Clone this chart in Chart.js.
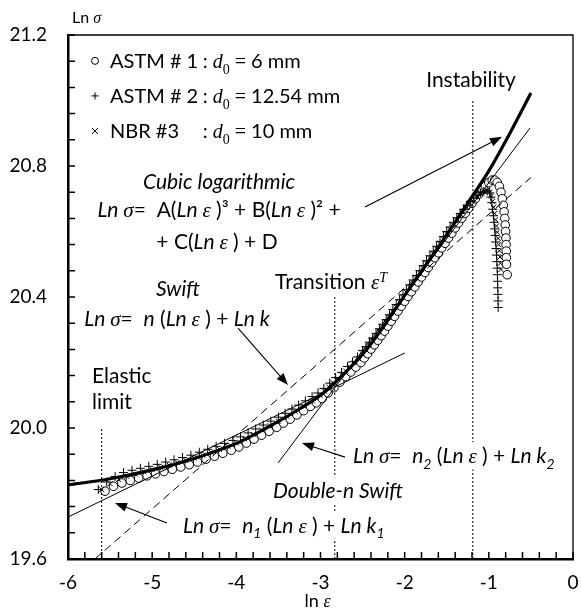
<!DOCTYPE html>
<html>
<head>
<meta charset="utf-8">
<script src="https://cdn.jsdelivr.net/npm/chart.js@4.4.1/dist/chart.umd.min.js"></script>
<style>
  html, body { margin: 0; padding: 0; background: #fff; }
  #wrap { width: 581px; height: 613px; position: relative; }
</style>
</head>
<body>
<div id="wrap"><canvas id="chart"></canvas></div>
<script>
// ---- data (ln eps, ln sigma) ----
const cubicX = [-6.0, -5.5, -5.0, -4.5, -4.0, -3.5, -3.25, -3.0, -2.75, -2.5, -2.25, -2.0, -1.75, -1.5, -1.25, -1.0, -0.75, -0.5];
const cubicY = [19.826, 19.845, 19.872, 19.907, 19.953, 20.020, 20.058, 20.100, 20.158, 20.225, 20.310, 20.405, 20.497, 20.590, 20.687, 20.785, 20.900, 21.023];

const swiftX = [-5.68, -0.5];
const swiftY = [19.6, 20.765];
const n1X = [-6.0, -2.0];
const n1Y = [19.728, 20.229];
const n2X = [-3.505, -0.511];
const n2Y = [19.893, 20.916];

const elasticX = [-5.6, -5.6];
const elasticY = [19.6, 20.0];
const transX = [-2.83, -2.83];
const transY = [19.6, 20.40];
const instabX = [-1.19, -1.19];
const instabY = [19.6, 21.0];

const astm1X = [-5.56, -5.46, -5.36, -5.26, -5.16, -5.06, -4.96, -4.86, -4.76, -4.66, -4.56, -4.46, -4.36, -4.26, -4.16, -4.06,
  -3.97, -3.88, -3.79, -3.70, -3.61, -3.52, -3.44, -3.36, -3.28, -3.20, -3.12, -3.05,
  -2.98, -2.91, -2.84, -2.77, -2.70, -2.64, -2.58, -2.52,
  -2.48, -2.44, -2.40, -2.36, -2.32, -2.28, -2.24, -2.20, -2.16, -2.12, -2.08, -2.04, -2.00, -1.96, -1.92, -1.88, -1.84, -1.80, -1.76,
  -1.72, -1.68, -1.64, -1.60, -1.56, -1.52, -1.48, -1.44, -1.40, -1.36, -1.32, -1.28, -1.24, -1.20, -1.16, -1.12, -1.08, -1.04, -1.00,
  -0.96, -0.93, -0.90, -0.875, -0.855, -0.840, -0.828, -0.818, -0.810, -0.805, -0.800, -0.797, -0.795, -0.793, -0.792, -0.790, -0.782];
const astm1Y = [19.807, 19.822, 19.832, 19.840, 19.847, 19.854, 19.860, 19.867, 19.874, 19.881, 19.888, 19.896, 19.905, 19.914, 19.923, 19.932,
  19.942, 19.954, 19.966, 19.978, 19.990, 20.002, 20.015, 20.027, 20.040, 20.053, 20.066, 20.077,
  20.090, 20.107, 20.123, 20.140, 20.157, 20.171, 20.186, 20.200,
  20.214, 20.227, 20.241, 20.254, 20.268, 20.282, 20.296, 20.311, 20.326, 20.341, 20.357, 20.372, 20.387, 20.402, 20.416, 20.431, 20.446, 20.461, 20.475,
  20.490, 20.505, 20.520, 20.535, 20.550, 20.564, 20.580, 20.595, 20.611, 20.626, 20.641, 20.656, 20.671, 20.686, 20.700, 20.714, 20.727, 20.739, 20.749,
  20.757, 20.757, 20.750, 20.738, 20.720, 20.700, 20.680, 20.660, 20.640, 20.620, 20.600, 20.580, 20.560, 20.540, 20.520, 20.500, 20.468];

const astm2X = [-5.64, -5.54, -5.44, -5.34, -5.24, -5.14, -5.04, -4.94, -4.84, -4.74, -4.64, -4.54, -4.44, -4.34, -4.24, -4.14, -4.04,
  -3.95, -3.86, -3.77, -3.68, -3.59, -3.50, -3.42, -3.34, -3.26, -3.18, -3.10, -3.03, -2.96, -2.89, -2.82, -2.75, -2.68, -2.62, -2.56, -2.50,
  -2.46, -2.42, -2.38, -2.34, -2.30, -2.26, -2.22, -2.18, -2.14, -2.10, -2.06, -2.02, -1.98, -1.94, -1.90, -1.86, -1.82, -1.78, -1.74,
  -1.70, -1.66, -1.62, -1.58, -1.54, -1.50, -1.46, -1.42, -1.38, -1.34, -1.30, -1.26, -1.22, -1.18, -1.14, -1.10, -1.06, -1.02,
  -0.99, -0.975, -0.965, -0.955, -0.946, -0.938, -0.931, -0.925, -0.919, -0.914, -0.909, -0.905, -0.901, -0.898, -0.896, -0.894, -0.892, -0.890, -0.889];
const astm2Y = [19.812, 19.835, 19.852, 19.864, 19.871, 19.877, 19.883, 19.889, 19.896, 19.903, 19.910, 19.917, 19.926, 19.935, 19.944, 19.953, 19.962,
  19.973, 19.985, 19.997, 20.009, 20.021, 20.033, 20.045, 20.058, 20.070, 20.083, 20.096, 20.107, 20.121, 20.137, 20.154, 20.170, 20.188, 20.202, 20.217, 20.237,
  20.248, 20.262, 20.275, 20.289, 20.303, 20.317, 20.331, 20.346, 20.362, 20.377, 20.392, 20.407, 20.422, 20.437, 20.452, 20.466, 20.481, 20.496, 20.511,
  20.526, 20.540, 20.555, 20.570, 20.585, 20.600, 20.614, 20.628, 20.642, 20.655, 20.668, 20.680, 20.692, 20.702, 20.711, 20.718, 20.723, 20.724,
  20.718, 20.705, 20.688, 20.668, 20.648, 20.628, 20.608, 20.588, 20.568, 20.548, 20.528, 20.508, 20.488, 20.468, 20.448, 20.428, 20.408, 20.388, 20.368];

const nbr3X = [-5.60, -5.50, -5.40, -5.30, -5.20, -5.10, -5.00, -4.90, -4.80, -4.70, -4.60, -4.50, -4.40, -4.30, -4.20, -4.10, -4.00,
  -3.90, -3.80, -3.70, -3.60, -3.50, -3.40, -3.30, -3.20, -3.10, -3.00, -2.95, -2.90, -2.85, -2.80, -2.75, -2.70, -2.65, -2.60, -2.55, -2.50,
  -2.46, -2.42, -2.38, -2.34, -2.30, -2.26, -2.22, -2.18, -2.14, -2.10, -2.06, -2.02, -1.98, -1.94, -1.90, -1.86, -1.82, -1.78, -1.74,
  -1.70, -1.66, -1.62, -1.58, -1.54, -1.50, -1.46, -1.42, -1.38, -1.34, -1.30, -1.26, -1.22, -1.18, -1.14, -1.10, -1.06,
  -1.02, -0.99, -0.97, -0.955, -0.942, -0.930, -0.919, -0.909, -0.899, -0.890, -0.882, -0.875, -0.868, -0.862, -0.856];
const nbr3Y = [19.812, 19.830, 19.843, 19.852, 19.859, 19.866, 19.873, 19.880, 19.887, 19.894, 19.901, 19.908, 19.917, 19.926, 19.935, 19.944, 19.954,
  19.967, 19.980, 19.994, 20.007, 20.021, 20.036, 20.051, 20.067, 20.083, 20.100, 20.112, 20.125, 20.138, 20.150, 20.162, 20.174, 20.187, 20.200, 20.212, 20.226,
  20.240, 20.254, 20.267, 20.281, 20.295, 20.309, 20.323, 20.338, 20.354, 20.369, 20.384, 20.399, 20.414, 20.429, 20.444, 20.458, 20.473, 20.488, 20.503,
  20.518, 20.532, 20.547, 20.562, 20.577, 20.592, 20.606, 20.620, 20.634, 20.648, 20.661, 20.674, 20.687, 20.698, 20.708, 20.716, 20.722,
  20.725, 20.720, 20.708, 20.692, 20.674, 20.655, 20.636, 20.617, 20.598, 20.579, 20.560, 20.541, 20.522, 20.503, 20.484];

const seriesNames = ['ASTM # 1', 'ASTM # 2', 'NBR #3'];
const seriesD0 = ['6 mm', '12.54 mm', '10 mm'];

// ---- look ----
const SANS = 'Lato, "Open Sans", sans-serif';
const MATH = '"Liberation Serif", "DejaVu Serif", serif';
const FS = 21;       // annotation text
const LEG_FS = 20;   // legend text
const TICK_FS = 19;  // tick labels

const zip = (xs, ys) => xs.map((x, i) => ({ x, y: ys[i] }));

// text placed in data units
const notes = [
  { x: -1.212, y: 21.063, align: 'center', segs: [['r', 'Instability']] },
  { x: -4.206, y: 20.754, align: 'center', segs: [['i', 'Cubic logarithmic']] },
  { x: -4.206, y: 20.666, align: 'center', segs: [['i', 'Ln '], ['m', 'σ'], ['r', '=  A('], ['i', 'Ln '], ['m', 'ε'], ['r', ' )³ + B('], ['i', 'Ln '], ['m', 'ε'], ['r', ' )² +']] },
  { x: -4.230, y: 20.571, align: 'center', segs: [['r', '+ C('], ['i', 'Ln '], ['m', 'ε'], ['r', ' ) + D']] },
  { x: -4.693, y: 20.427, align: 'center', segs: [['i', 'Swift']] },
  { x: -4.705, y: 20.336, align: 'center', segs: [['i', 'Ln '], ['m', 'σ'], ['r', '=  '], ['i', 'n'], ['r', ' ('], ['i', 'Ln '], ['m', 'ε'], ['r', ' ) + '], ['i', 'Ln k']] },
  { x: -2.875, y: 20.446, align: 'center', segs: [['r', 'Transition '], ['m', 'ε'], ['msup', 'T']] },
  { x: -5.715, y: 20.162, align: 'left', segs: [['r', 'Elastic']] },
  { x: -5.715, y: 20.082, align: 'left', segs: [['r', 'limit']] },
  { x: -2.614, y: 19.915, align: 'left', box: true, segs: [['i', 'Ln '], ['m', 'σ'], ['r', '=  '], ['i', 'n'], ['sub', '2'], ['r', ' ('], ['i', 'Ln '], ['m', 'ε'], ['r', ' ) + '], ['i', 'Ln k'], ['sub', '2']] },
  { x: -2.792, y: 19.808, align: 'center', box: true, segs: [['i', 'Double-n Swift']] },
  { x: -4.634, y: 19.704, align: 'left', box: true, segs: [['i', 'Ln '], ['m', 'σ'], ['r', '=  '], ['i', 'n'], ['sub', '1'], ['r', ' ('], ['i', 'Ln '], ['m', 'ε'], ['r', ' ) + '], ['i', 'Ln k'], ['sub', '1']] },
];

const arrows = [
  [-2.471, 20.675, -0.844, 20.889],
  [-3.98, 20.305, -3.386, 20.131],
  [-2.709, 19.911, -3.22, 19.954],
  [-4.824, 19.710, -5.442, 19.771],
];

const legendRowsY = [21.121, 21.014, 20.907];

function fontFor(kind, size) {
  switch (kind) {
    case 'i': return `italic ${size}px ${SANS}`;
    case 'm': return `italic ${size}px ${MATH}`;
    case 'mr': return `${size}px ${MATH}`;
    case 'sub': return `italic ${Math.round(size * 0.68)}px ${SANS}`;
    case 'msub': return `${Math.round(size * 0.68)}px ${MATH}`;
    case 'msup': return `italic ${Math.round(size * 0.68)}px ${MATH}`;
    default: return `${size}px ${SANS}`;
  }
}
function shiftFor(kind, size) {
  if (kind === 'sub' || kind === 'msub') return size * 0.28;
  if (kind === 'msup') return -size * 0.38;
  return 0;
}

// draws mixed-font text, y is the vertical middle
function drawRich(ctx, segs, x, y, align, size, box) {
  let w = 0;
  const widths = segs.map(([k, t]) => { ctx.font = fontFor(k, size); const m = ctx.measureText(t).width; w += m; return m; });
  let cx = align === 'center' ? x - w / 2 : x;
  if (box) {
    ctx.fillStyle = '#fff';
    ctx.fillRect(cx - 3, y - size * 0.65, w + 6, size * 1.3);
  }
  ctx.fillStyle = '#000';
  ctx.textBaseline = 'alphabetic';
  ctx.textAlign = 'left';
  const base = y + size * 0.36;
  segs.forEach(([k, t], i) => {
    ctx.font = fontFor(k, size);
    ctx.fillText(t, cx, base + shiftFor(k, size));
    cx += widths[i];
  });
  return cx;
}

function drawArrow(ctx, x1, y1, x2, y2) {
  const a = Math.atan2(y2 - y1, x2 - x1);
  const L = 12, H = 4.5;
  ctx.strokeStyle = '#000';
  ctx.lineWidth = 1.1;
  ctx.beginPath();
  ctx.moveTo(x1, y1);
  ctx.lineTo(x2 - Math.cos(a) * (L - 2), y2 - Math.sin(a) * (L - 2));
  ctx.stroke();
  ctx.fillStyle = '#000';
  ctx.beginPath();
  ctx.moveTo(x2, y2);
  ctx.lineTo(x2 - L * Math.cos(a) + H * Math.sin(a), y2 - L * Math.sin(a) - H * Math.cos(a));
  ctx.lineTo(x2 - L * Math.cos(a) - H * Math.sin(a), y2 - L * Math.sin(a) + H * Math.cos(a));
  ctx.closePath();
  ctx.fill();
}

const decorations = {
  id: 'decorations',
  afterDatasetsDraw(chart) {
    const ctx = chart.ctx;
    const xs = chart.scales.x, ys = chart.scales.y;
    const px = v => xs.getPixelForValue(v);
    const py = v => ys.getPixelForValue(v);
    ctx.save();
    arrows.forEach(a => drawArrow(ctx, px(a[0]), py(a[1]), px(a[2]), py(a[3])));
    notes.forEach(n => drawRich(ctx, n.segs, px(n.x), py(n.y), n.align, FS, n.box));

    // legend
    const symX = px(-5.679), txtX = px(-5.501), colX = px(-4.40);
    legendRowsY.forEach((v, i) => {
      const y = py(v);
      ctx.strokeStyle = '#000';
      ctx.lineWidth = 1;
      ctx.beginPath();
      if (i === 0) {
        ctx.arc(symX, y, 3.5, 0, Math.PI * 2);
      } else if (i === 1) {
        ctx.moveTo(symX - 3.5, y); ctx.lineTo(symX + 3.5, y);
        ctx.moveTo(symX, y - 3.5); ctx.lineTo(symX, y + 3.5);
      } else {
        ctx.moveTo(symX - 3, y - 3); ctx.lineTo(symX + 3, y + 3);
        ctx.moveTo(symX - 3, y + 3); ctx.lineTo(symX + 3, y - 3);
      }
      ctx.stroke();
      drawRich(ctx, [['r', seriesNames[i]]], txtX, y, 'left', LEG_FS);
      drawRich(ctx, [['r', ': '], ['m', 'd'], ['msub', '0'], ['mr', ' = '], ['r', seriesD0[i]]], colX, y, 'left', LEG_FS);
    });
    ctx.restore();
  },
  afterDraw(chart) {
    const ctx = chart.ctx;
    const a = chart.chartArea;
    const xs = chart.scales.x, ys = chart.scales.y;
    ctx.save();
    // thin frame on top and right
    ctx.strokeStyle = '#000';
    ctx.lineWidth = 1.3;
    ctx.beginPath();
    ctx.moveTo(a.left, a.top); ctx.lineTo(a.right, a.top); ctx.lineTo(a.right, a.bottom);
    ctx.stroke();
    // inward tick marks
    ctx.lineWidth = 1.5;
    ctx.beginPath();
    xs.ticks.forEach(t => { const x = xs.getPixelForValue(t.value); ctx.moveTo(x, a.bottom); ctx.lineTo(x, a.bottom - 7); });
    ys.ticks.forEach(t => { const y = ys.getPixelForValue(t.value); ctx.moveTo(a.left, y); ctx.lineTo(a.left + 7, y); });
    ctx.stroke();
    // axis titles
    drawRich(ctx, [['r', 'ln '], ['m', 'ε']], (a.left + a.right) / 2 - 3, a.bottom + 42, 'center', 18);
    drawRich(ctx, [['r', 'Ln '], ['m', 'σ']], a.left + 4, a.top - 18, 'left', 16);
    ctx.restore();
  }
};

const lineDs = (xs, ys, extra) => Object.assign({
  data: zip(xs, ys), showLine: true, pointRadius: 0, borderColor: '#000', borderWidth: 1, fill: false, order: 1
}, extra);

new Chart(document.getElementById('chart'), {
  type: 'scatter',
  data: {
    datasets: [
      lineDs(cubicX, cubicY, { label: 'Cubic logarithmic', borderWidth: 3.2, cubicInterpolationMode: 'monotone', order: 0 }),
      lineDs(swiftX, swiftY, { label: 'Swift', borderDash: [8, 5] }),
      lineDs(n1X, n1Y, { label: 'n1' }),
      lineDs(n2X, n2Y, { label: 'n2' }),
      lineDs(elasticX, elasticY, { label: 'Elastic limit', borderDash: [2, 2] }),
      lineDs(transX, transY, { label: 'Transition', borderDash: [2, 2] }),
      lineDs(instabX, instabY, { label: 'Instability', borderDash: [2, 2] }),
      { label: seriesNames[2], data: zip(nbr3X, nbr3Y), pointStyle: 'crossRot', pointRadius: 3.5, borderColor: '#000', borderWidth: 1, backgroundColor: '#000', order: 2 },
      { label: seriesNames[1], data: zip(astm2X, astm2Y), pointStyle: 'cross', pointRadius: 4.5, borderColor: '#000', borderWidth: 1, backgroundColor: '#000', order: 3 },
      { label: seriesNames[0], data: zip(astm1X, astm1Y), pointStyle: 'circle', pointRadius: 4.3, borderColor: '#000', borderWidth: 1, backgroundColor: '#fff', order: 4 },
    ]
  },
  options: {
    responsive: true,
    maintainAspectRatio: false,
    animation: false,
    events: [],
    layout: { padding: { top: 35, right: 8, left: 0, bottom: 0 } },
    plugins: { legend: { display: false }, tooltip: { enabled: false } },
    scales: {
      x: {
        type: 'linear', min: -6, max: 0,
        afterFit: s => { s.height = 54; s.paddingLeft = 0; s.paddingRight = 0; },
        border: { color: '#000', width: 2.5 },
        grid: { drawOnChartArea: false, drawTicks: false },
        ticks: {
          stepSize: 0.2, autoSkip: false, maxRotation: 0, padding: 12, color: '#000',
          font: { family: SANS, size: TICK_FS },
          callback: v => (Math.round(v * 10) % 10 === 0 ? String(Math.round(v)) : '')
        }
      },
      y: {
        type: 'linear', min: 19.6, max: 21.2,
        afterFit: s => { s.width = 68; s.paddingTop = 0; s.paddingBottom = 0; },
        border: { color: '#000', width: 2.5 },
        grid: { drawOnChartArea: false, drawTicks: false },
        ticks: {
          stepSize: 0.08, autoSkip: false, padding: 21, color: '#000',
          font: { family: SANS, size: TICK_FS },
          callback: v => (Math.round(v * 100) % 40 === 0 ? v.toFixed(1) : '')
        }
      }
    }
  },
  plugins: [decorations]
});
</script>
</body>
</html>
